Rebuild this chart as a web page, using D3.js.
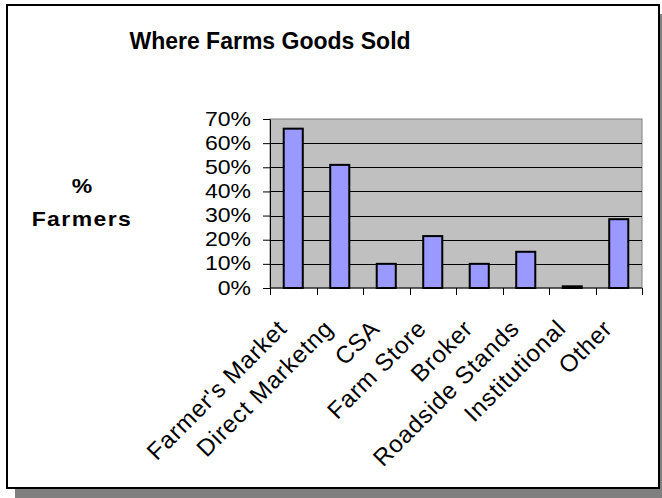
<!DOCTYPE html>
<html>
<head>
<meta charset="utf-8">
<script src="https://cdn.jsdelivr.net/npm/d3@7"></script>
<style>
  body { margin: 0; background: #fff; }
  text { font-family: "Liberation Sans", Arial, sans-serif; }
</style>
</head>
<body>
<div id="chart"></div>
<script>
// chart data
var categories = ["Farmer's Market", "Direct Marketng", "CSA", "Farm Store", "Broker", "Roadside Stands", "Institutional", "Other"];
var shares = [0.66, 0.51, 0.10, 0.215, 0.10, 0.15, 0.007, 0.285];
var tickValues = [0, 0.1, 0.2, 0.3, 0.4, 0.5, 0.6, 0.7];

var W = 662, H = 498;
var plot = { left: 270, right: 642, top: 119, bottom: 288 };
var stretch = 1.18; // the value labels in the picture are a bit wide

var svg = d3.select("#chart")
    .append("svg")
    .attr("width", W)
    .attr("height", H);

// frame with its shadow
svg.append("rect")
    .attr("x", 15).attr("y", 14)
    .attr("width", 653).attr("height", 484)
    .attr("fill", "#808080");
svg.append("rect")
    .attr("x", 7).attr("y", 5)
    .attr("width", 652).attr("height", 483)
    .attr("fill", "#fff")
    .attr("stroke", "#000")
    .attr("stroke-width", 2);

// title
svg.append("text")
    .attr("x", 270)
    .attr("y", 49)
    .attr("text-anchor", "middle")
    .style("font-size", "23px")
    .style("font-weight", "bold")
    .text("Where Farms Goods Sold");

// y label
var ylab = svg.append("g")
    .attr("transform", "translate(82,0) scale(" + stretch + ",1)");
ylab.append("text")
    .attr("y", 193)
    .attr("text-anchor", "middle")
    .style("font-size", "19.5px")
    .style("font-weight", "bold")
    .text("%");
ylab.append("text")
    .attr("y", 226)
    .attr("text-anchor", "middle")
    .style("font-size", "19.5px")
    .style("font-weight", "bold")
    .style("letter-spacing", "1.2px")
    .text("Farmers");

var x = d3.scaleBand()
    .domain(categories)
    .range([plot.left, plot.right])
    .paddingInner(0.59)
    .paddingOuter(0.295);

var y = d3.scaleLinear()
    .domain([0, 0.7])
    .range([plot.bottom, plot.top]);

// plot area
svg.append("rect")
    .attr("x", plot.left).attr("y", plot.top)
    .attr("width", plot.right - plot.left)
    .attr("height", plot.bottom - plot.top)
    .attr("fill", "#c0c0c0")
    .attr("stroke", "#808080")
    .attr("stroke-width", 1);

// gridlines
svg.append("g")
    .selectAll("line")
    .data(tickValues.filter(function (d) { return d > 0 && d < 0.7; }))
    .enter()
    .append("line")
    .attr("x1", plot.left).attr("x2", plot.right)
    .attr("y1", function (d) { return Math.round(y(d)) + 0.5; })
    .attr("y2", function (d) { return Math.round(y(d)) + 0.5; })
    .attr("stroke", "#000")
    .attr("stroke-width", 1);

// bars
svg.append("g")
    .selectAll("rect")
    .data(categories)
    .enter()
    .append("rect")
    .attr("x", function (d) { return x(d); })
    .attr("y", function (d, i) { return y(shares[i]); })
    .attr("width", x.bandwidth())
    .attr("height", function (d, i) { return plot.bottom - y(shares[i]); })
    .attr("fill", "#9999ff")
    .attr("stroke", "#000")
    .attr("stroke-width", 2);

// Y axis
var yAxis = svg.append("g")
    .attr("transform", "translate(" + plot.left + ",0)")
    .call(d3.axisLeft(y).tickValues(tickValues).tickSize(7).tickSizeOuter(0).tickFormat(""));
yAxis.selectAll("path, line").attr("stroke", "#000").attr("stroke-width", 1);

svg.append("g")
    .selectAll("text")
    .data(tickValues)
    .enter()
    .append("text")
    .attr("transform", function (d) {
        return "translate(251," + (y(d) + 6.5) + ") scale(" + stretch + ",1)";
    })
    .attr("text-anchor", "end")
    .style("font-size", "19.5px")
    .text(d3.format(".0%"));

// X axis, ticks between the categories
var step = x.step();
var xAxis = svg.append("g")
    .attr("transform", "translate(0," + plot.bottom + ")");
xAxis.append("line")
    .attr("x1", plot.left).attr("x2", plot.right)
    .attr("stroke", "#000");
xAxis.selectAll(".tk")
    .data(d3.range(categories.length + 1))
    .enter()
    .append("line")
    .attr("class", "tk")
    .attr("x1", function (i) { return Math.round(plot.left + i * step) + 0.5; })
    .attr("x2", function (i) { return Math.round(plot.left + i * step) + 0.5; })
    .attr("y1", 0).attr("y2", 7)
    .attr("stroke", "#000");

svg.append("g")
    .selectAll("text")
    .data(categories)
    .enter()
    .append("text")
    .attr("transform", function (d) {
        return "translate(" + (x(d) + x.bandwidth() / 2 - 5) + ",330) rotate(-45)";
    })
    .attr("text-anchor", "end")
    .style("font-size", "24px")
    .style("letter-spacing", "0.8px")
    .text(function (d) { return d; });
</script>
</body>
</html>
